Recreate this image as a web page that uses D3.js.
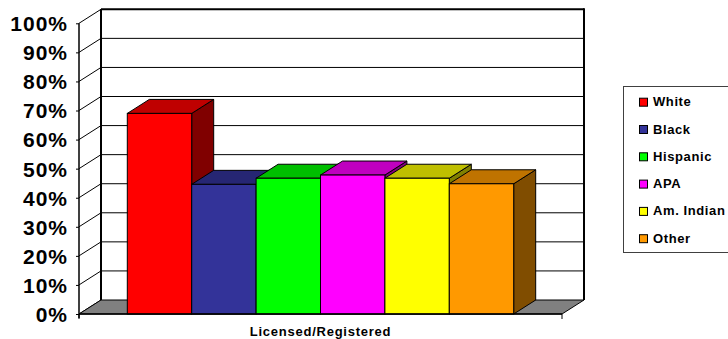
<!DOCTYPE html>
<html>
<head>
<meta charset="utf-8">
<script src="https://cdn.jsdelivr.net/npm/d3@7"></script>
<style>
  html, body { margin: 0; padding: 0; background: #fff; }
  svg { display: block; font-family: Arial, "Liberation Sans", sans-serif; }
</style>
</head>
<body>
<svg id="chart" width="728" height="339"></svg>
<script>
// Share of each group that is licensed/registered (%)
const categories = ["Licensed/Registered"];
const seriesNames = ["White", "Black", "Hispanic", "APA", "Am. Indian", "Other"];
const seriesValues = [69, 44.6, 46.7, 47.8, 46.7, 44.8];
const yTicks = [0, 10, 20, 30, 40, 50, 60, 70, 80, 90, 100];

// front / top / side face colours for each series
const frontColors = ["#FF0000", "#333399", "#00FF00", "#FF00FF", "#FFFF00", "#FF9900"];
const topColors   = ["#BF0000", "#262673", "#00BF00", "#BF00BF", "#BFBF00", "#BF7300"];
const sideColors  = ["#800000", "#1A1A4D", "#008000", "#800080", "#808000", "#804D00"];

const svg = d3.select("#chart");

// depth offset of the 3D box
const DX = 22, DY = -14;

const y = d3.scaleLinear().domain([0, 100]).range([314, 23.3]);
const xCat = d3.scaleBand().domain(categories).range([79, 562])
  .paddingInner(0).paddingOuter(0.125);
const xSer = d3.scaleBand().domain(seriesNames)
  .range([xCat(categories[0]), xCat(categories[0]) + xCat.bandwidth()]).padding(0);

const left = xCat.range()[0], right = xCat.range()[1];
const y0 = y(0);

// back wall gridlines
const g = svg.append("g");
g.selectAll("line.grid").data(yTicks.filter(d => d > 0)).join("line")
  .attr("class", "grid")
  .attr("x1", left + DX).attr("x2", right + DX)
  .attr("y1", d => y(d) + DY).attr("y2", d => y(d) + DY)
  .attr("stroke", "#000").attr("stroke-width", d => d === 100 ? 2 : 1);

// side wall gridlines
g.selectAll("line.side").data(yTicks).join("line")
  .attr("class", "side")
  .attr("x1", left).attr("x2", left + DX)
  .attr("y1", d => y(d)).attr("y2", d => y(d) + DY)
  .attr("stroke", "#000").attr("stroke-width", 1);

// back wall verticals
g.append("line").attr("x1", left + DX).attr("x2", left + DX)
  .attr("y1", y(100) + DY).attr("y2", y0 + DY).attr("stroke", "#000").attr("stroke-width", 2);
g.append("line").attr("x1", right + DX).attr("x2", right + DX)
  .attr("y1", y(100) + DY - 1).attr("y2", y0 + DY).attr("stroke", "#000").attr("stroke-width", 2);

// floor
g.append("path")
  .attr("d", `M${left},${y0}L${right},${y0}L${right + DX},${y0 + DY}L${left + DX},${y0 + DY}Z`)
  .attr("fill", "#808080").attr("stroke", "#000").attr("stroke-width", 1);

// bars, drawn left to right so nearer faces cover hidden ones
const bars = svg.append("g");
seriesNames.forEach((name, i) => {
  const v = seriesValues[i];
  const x0 = xSer(name), x1 = x0 + xSer.bandwidth();
  const yt = y(v);
  const b = bars.append("g");
  b.append("path")
    .attr("d", `M${x1},${yt}L${x1 + DX},${yt + DY}L${x1 + DX},${y0 + DY}L${x1},${y0}Z`)
    .attr("fill", sideColors[i]).attr("stroke", "#000").attr("stroke-width", 1);
  b.append("path")
    .attr("d", `M${x0},${yt}L${x0 + DX},${yt + DY}L${x1 + DX},${yt + DY}L${x1},${yt}Z`)
    .attr("fill", topColors[i]).attr("stroke", "#000").attr("stroke-width", 1);
  b.append("rect")
    .attr("x", x0).attr("y", yt).attr("width", x1 - x0).attr("height", y0 - yt)
    .attr("fill", frontColors[i]).attr("stroke", "#000").attr("stroke-width", 1);
});

// value axis
const yAxis = d3.axisLeft(y).tickValues(yTicks).tickFormat(d => d + "%")
  .tickSize(3).tickSizeOuter(0).tickPadding(8);
const ya = svg.append("g").attr("transform", `translate(${left},0)`).call(yAxis);
ya.select(".domain").remove();
ya.selectAll(".tick line").attr("stroke", "#000");
ya.selectAll(".tick text")
  .attr("fill", "#000").attr("font-size", 21).attr("font-weight", "bold")
  .attr("letter-spacing", "1px").attr("dy", "0.35em");
svg.append("line").attr("x1", left).attr("x2", left)
  .attr("y1", y(100)).attr("y2", y0 + 4).attr("stroke", "#000").attr("stroke-width", 1.5);

// category axis
svg.append("line").attr("x1", left).attr("x2", right)
  .attr("y1", y0).attr("y2", y0).attr("stroke", "#000").attr("stroke-width", 1.5);
svg.selectAll("line.ctick").data(xCat.range()).join("line")
  .attr("class", "ctick")
  .attr("x1", d => d).attr("x2", d => d)
  .attr("y1", y0).attr("y2", y0 + 5).attr("stroke", "#000");
svg.selectAll("text.cat").data(categories).join("text")
  .attr("class", "cat")
  .attr("x", d => xCat(d) + xCat.bandwidth() / 2).attr("y", 336)
  .attr("text-anchor", "middle").attr("font-size", 13).attr("font-weight", "bold")
  .attr("letter-spacing", "0.75px")
  .text(d => d);

// legend
const lg = svg.append("g");
lg.append("rect").attr("x", 623.5).attr("y", 86.5).attr("width", 120).attr("height", 166)
  .attr("fill", "#fff").attr("stroke", "#404040").attr("stroke-width", 1);
const items = lg.selectAll("g.item").data(seriesNames).join("g")
  .attr("class", "item")
  .attr("transform", (d, i) => `translate(0,${101.7 + i * 27.3})`);
items.append("rect").attr("x", 639.5).attr("y", -3.5).attr("width", 8).attr("height", 8)
  .attr("fill", (d, i) => frontColors[i]).attr("stroke", "#000").attr("stroke-width", 1);
items.append("text").attr("x", 653).attr("y", 4.5)
  .attr("font-size", 13).attr("font-weight", "bold").attr("letter-spacing", "0.6px")
  .attr("fill", "#000").text(d => d);
</script>
</body>
</html>
